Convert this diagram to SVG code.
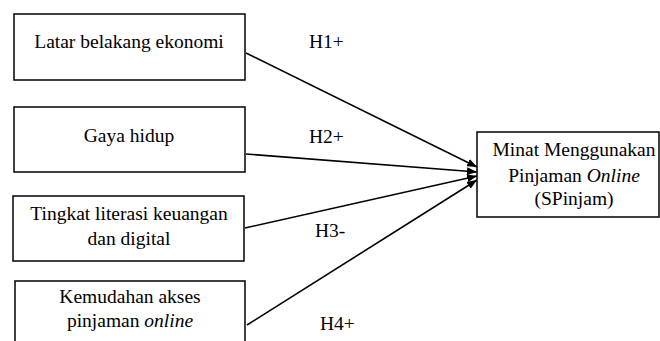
<svg xmlns="http://www.w3.org/2000/svg" width="660" height="341" viewBox="0 0 660 341">
<style>
.box{fill:#fff;stroke:#000;stroke-width:1.5}
.t{font-family:"Liberation Serif","Times New Roman",serif;font-size:19.5px;fill:#000;text-anchor:middle}
.l{font-family:"Liberation Serif","Times New Roman",serif;font-size:19.5px;fill:#000}
.c{stroke:#000;stroke-width:1.6;fill:none;marker-end:url(#ah)}
</style>
<defs>
<marker id="ah" markerUnits="userSpaceOnUse" markerWidth="10" markerHeight="8" refX="10" refY="4" orient="auto">
<path d="M0,0 L10,4 L0,8 Z" fill="#000"/>
</marker>
</defs>
<rect width="660" height="341" fill="#fff"/>
<g id="connectors">
<line class="c" x1="246" y1="53" x2="477" y2="167"/>
<line class="c" x1="246" y1="154" x2="477" y2="172"/>
<line class="c" x1="245" y1="228" x2="477" y2="176"/>
<line class="c" x1="247" y1="325" x2="477" y2="180"/>
<text class="l" x="309" y="48">H1+</text>
<text class="l" x="309" y="143">H2+</text>
<text class="l" x="315" y="237">H3-</text>
<text class="l" x="320" y="330">H4+</text>
</g>
<g id="n1">
<rect class="box" x="14" y="14" width="231" height="66"/>
<text class="t" x="129" y="48">Latar belakang ekonomi</text>
</g>
<g id="n2">
<rect class="box" x="14" y="107" width="231" height="65"/>
<text class="t" x="129" y="142">Gaya hidup</text>
</g>
<g id="n3">
<rect class="box" x="13" y="196" width="231" height="65"/>
<text class="t" x="129" y="220">Tingkat literasi keuangan</text>
<text class="t" x="129" y="245">dan digital</text>
</g>
<g id="n4">
<rect class="box" x="15" y="281" width="230" height="75"/>
<text class="t" x="130" y="303">Kemudahan akses</text>
<text class="t" x="130" y="327">pinjaman <tspan font-style="italic">online</tspan></text>
</g>
<g id="n5">
<rect class="box" x="477" y="132" width="182" height="85"/>
<text class="t" x="574" y="156">Minat Menggunakan</text>
<text class="t" x="574" y="182">Pinjaman <tspan font-style="italic">Online</tspan></text>
<text class="t" x="574" y="205">(SPinjam)</text>
</g>
</svg>
